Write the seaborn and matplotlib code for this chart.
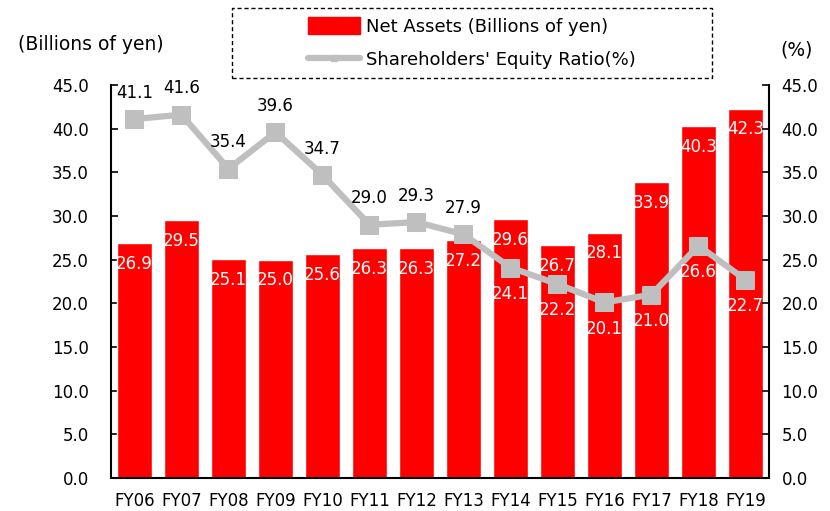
import numpy as np
import pandas as pd
import matplotlib.pyplot as plt
import seaborn as sns
from matplotlib.lines import Line2D
from matplotlib.patches import Patch, Rectangle

# --- data ---
years = ["FY06", "FY07", "FY08", "FY09", "FY10", "FY11", "FY12",
         "FY13", "FY14", "FY15", "FY16", "FY17", "FY18", "FY19"]
net_assets = [26.9, 29.5, 25.1, 25.0, 25.6, 26.3, 26.3,
              27.2, 29.6, 26.7, 28.1, 33.9, 40.3, 42.3]
equity_ratio = [41.1, 41.6, 35.4, 39.6, 34.7, 29.0, 29.3,
                27.9, 24.1, 22.2, 20.1, 21.0, 26.6, 22.7]

bar_red = "#FF0000"
line_grey = "#BFBFBF"

sns.set_theme(style="white")
plt.rcParams["font.family"] = ["DejaVu Sans"]
plt.rcParams["text.color"] = "black"
plt.rcParams["xtick.color"] = "black"
plt.rcParams["ytick.color"] = "black"

df = pd.DataFrame({"year": years, "assets": net_assets, "ratio": equity_ratio})

fig = plt.figure(figsize=(8.3, 5.11), dpi=100)
ax = fig.add_axes([0.1337, 0.0646, 0.7928, 0.7691])

sns.barplot(data=df, x="year", y="assets", color=bar_red, saturation=1,
            width=0.74, ax=ax)
ticks = np.arange(0, 46, 5)
ax.set_ylim(0, 45)
ax.set_xlim(-0.5, len(years) - 0.5)
ax.set_yticks(ticks)
ax.set_yticklabels([f"{v:.1f}" for v in ticks], fontsize=12)
ax.set_xlabel("")
ax.set_ylabel("")
ax.set_xticks(np.arange(len(years)))
ax.set_xticklabels(years, fontsize=12)
ax.tick_params(axis="x", which="major", length=0, pad=10)
ax.set_xticks(np.arange(-0.5, len(years), 1), minor=True)
ax.tick_params(axis="x", which="minor", direction="in", length=5, width=1.2)
ax.tick_params(axis="y", direction="in", length=5, width=1.2, pad=16)
for s in ["left", "bottom"]:
    ax.spines[s].set_color("black")
    ax.spines[s].set_linewidth(1.5)
ax.spines["top"].set_visible(False)
ax.spines["right"].set_visible(False)

# bar labels inside top
for i, v in enumerate(net_assets):
    ax.annotate(f"{v:.1f}", (i, v), xytext=(0, -15), textcoords="offset points",
                ha="center", va="center", color="white", fontsize=12)

ax2 = ax.twinx()
sns.lineplot(data=df, x="year", y="ratio", color=line_grey, linewidth=4.5,
             marker="s", markersize=12.5, markeredgecolor=line_grey, ax=ax2)
ax2.set_ylim(0, 45)
ax2.set_yticks(ticks)
ax2.set_yticklabels([f"{v:.1f}" for v in ticks], fontsize=12)
ax2.set_ylabel("")
ax2.set_xlabel("")
ax2.tick_params(axis="y", direction="in", length=5, width=1.2, pad=9)
for s in ["left", "bottom", "top"]:
    ax2.spines[s].set_visible(False)
ax2.spines["right"].set_color("black")
ax2.spines["right"].set_linewidth(1.5)

# line labels: above (black) for early years, below (white) afterwards
for i, v in enumerate(equity_ratio):
    if i < 8:
        ax2.annotate(f"{v:.1f}", (i, v), xytext=(0, 19), textcoords="offset points",
                     ha="center", va="center", color="black", fontsize=12)
    else:
        ax2.annotate(f"{v:.1f}", (i, v), xytext=(0, -19), textcoords="offset points",
                     ha="center", va="center", color="white", fontsize=12)

fig.text(0.022, 0.912, "(Billions of yen)", fontsize=13.5, ha="left", va="center")
fig.text(0.94, 0.902, "(%)", fontsize=13.5, ha="left", va="center")

# dashed legend box
fig.patches.append(Rectangle((0.2795, 0.847), 0.578, 0.137, transform=fig.transFigure,
                             fill=False, edgecolor="black", linewidth=1.0,
                             linestyle=(0, (3, 2))))
handles = [Patch(facecolor=bar_red, edgecolor=bar_red),
           Line2D([0], [0], color=line_grey, linewidth=4.5, marker="s",
                  markersize=5, markeredgecolor=line_grey)]
fig.legend(handles, ["Net Assets (Billions of yen)", "Shareholders' Equity Ratio(%)"],
           loc="center left", bbox_to_anchor=(0.371, 0.915), fontsize=13,
           frameon=False, handlelength=2.9, handleheight=1.0, borderpad=0,
           labelspacing=0.85, borderaxespad=0, handletextpad=0.33)

fig.savefig("out.png", dpi=100)
